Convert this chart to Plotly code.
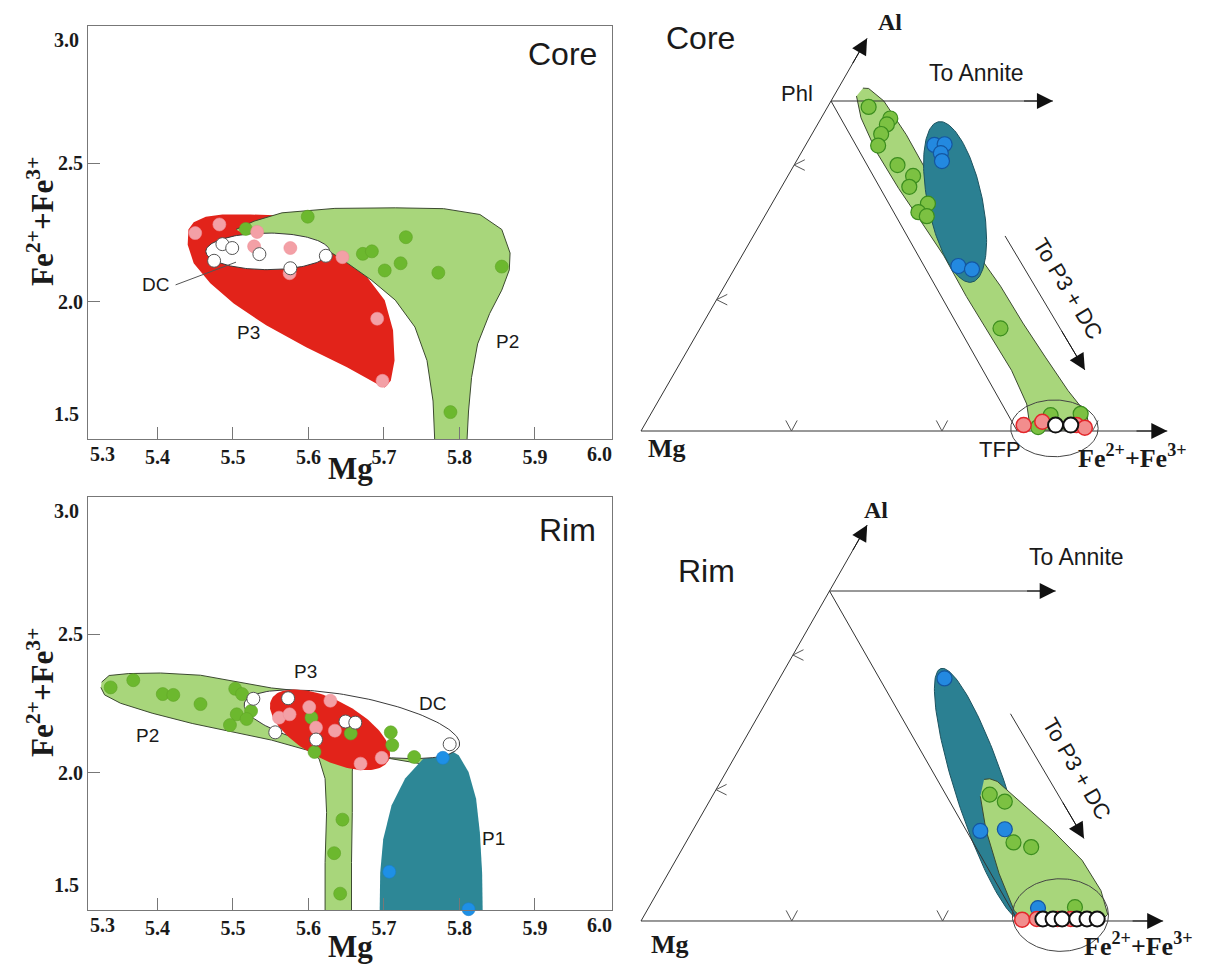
import numpy as np
import plotly.graph_objects as go

W, H = 1209, 966
SANS = "Liberation Sans"
SERIF = "Liberation Serif"
INK = "#1a1a1a"

# ---------------- Mg vs Fe2+ + Fe3+ : core ----------------
core_green_mg = [5.599, 5.517, 5.672, 5.684, 5.729, 5.701, 5.722, 5.772, 5.856, 5.788]
core_green_fe = [2.307, 2.263, 2.173, 2.182, 2.233, 2.113, 2.139, 2.105, 2.127, 1.602]
core_pink_mg = [5.450, 5.482, 5.532, 5.528, 5.576, 5.645, 5.691, 5.698, 5.575]
core_pink_fe = [2.248, 2.279, 2.252, 2.200, 2.194, 2.161, 1.939, 1.715, 2.103]
core_white_mg = [5.486, 5.499, 5.475, 5.535, 5.576, 5.623]
core_white_fe = [2.208, 2.194, 2.148, 2.172, 2.121, 2.166]

# field outlines (Mg, Fe)
core_p3_mg = [5.441, 5.448, 5.464, 5.486, 5.523, 5.555, 5.597, 5.645, 5.677, 5.701, 5.712,
              5.714, 5.709, 5.701, 5.691, 5.651, 5.597, 5.544, 5.501, 5.470, 5.448, 5.440]
core_p3_fe = [2.261, 2.287, 2.307, 2.315, 2.315, 2.312, 2.261, 2.176, 2.091, 2.006, 1.897,
              1.788, 1.715, 1.691, 1.703, 1.764, 1.836, 1.915, 1.994, 2.067, 2.139, 2.206]
core_p2_mg = [5.504, 5.528, 5.565, 5.635, 5.715, 5.779, 5.827, 5.856, 5.867, 5.866, 5.856,
              5.840, 5.824, 5.816, 5.812, 5.810, 5.809, 5.768, 5.767, 5.765, 5.757, 5.741,
              5.715, 5.683, 5.645, 5.624, 5.587, 5.544, 5.512]
core_p2_fe = [2.261, 2.291, 2.321, 2.337, 2.339, 2.336, 2.315, 2.261, 2.176, 2.115, 2.042,
              1.958, 1.848, 1.727, 1.606, 1.499, 1.45, 1.45, 1.499, 1.642, 1.788, 1.909,
              2.006, 2.079, 2.152, 2.188, 2.230, 2.245, 2.248]
# DC field: centre, semi-axis vectors
core_dc = dict(cx=5.546, cy=2.182, ux=0.0820, uy=0.0, vx=0.0, vy=0.066)

# ---------------- Mg vs Fe2+ + Fe3+ : rim ----------------
rim_green_mg = [5.338, 5.368, 5.407, 5.421, 5.457, 5.503, 5.512, 5.524, 5.505, 5.518, 5.496,
                5.604, 5.656, 5.709, 5.711, 5.608, 5.740, 5.645, 5.634, 5.642]
rim_green_fe = [2.308, 2.334, 2.284, 2.281, 2.248, 2.303, 2.284, 2.223, 2.211, 2.194, 2.172,
                2.199, 2.142, 2.146, 2.100, 2.075, 2.057, 1.831, 1.710, 1.564]
rim_pink_mg = [5.561, 5.575, 5.601, 5.629, 5.610, 5.635, 5.669, 5.697]
rim_pink_fe = [2.199, 2.211, 2.237, 2.260, 2.163, 2.152, 2.033, 2.054]
rim_white_mg = [5.527, 5.573, 5.556, 5.610, 5.649, 5.662, 5.787]
rim_white_fe = [2.267, 2.269, 2.146, 2.120, 2.185, 2.181, 2.103]
rim_blue_mg = [5.778, 5.707, 5.812]
rim_blue_fe = [2.054, 1.643, 1.508]

rim_p2_mg = [5.326, 5.336, 5.362, 5.404, 5.457, 5.509, 5.551, 5.593, 5.656, 5.682, 5.730,
             5.753, 5.758, 5.748, 5.709, 5.677, 5.659, 5.658, 5.658, 5.657, 5.657, 5.622,
             5.622, 5.624, 5.622, 5.614, 5.598, 5.551, 5.499, 5.446, 5.393, 5.351, 5.330, 5.325]
rim_p2_fe = [2.327, 2.351, 2.358, 2.360, 2.352, 2.327, 2.306, 2.294, 2.221, 2.148, 2.078,
             2.069, 2.057, 2.033, 2.051, 2.057, 2.051, 2.003, 1.857, 1.676, 1.45, 1.45,
             1.676, 1.857, 1.979, 2.051, 2.082, 2.118, 2.148, 2.178, 2.215, 2.251, 2.281, 2.308]
rim_p1_mg = [5.776, 5.784, 5.799, 5.812, 5.822, 5.827, 5.830, 5.831, 5.831,
             5.694, 5.694, 5.695, 5.699, 5.710, 5.728, 5.752, 5.770]
rim_p1_fe = [2.090, 2.088, 2.063, 2.003, 1.906, 1.785, 1.639, 1.50, 1.45,
             1.45, 1.50, 1.639, 1.760, 1.882, 1.979, 2.051, 2.082]
rim_dc = dict(cx=5.6575, cy=2.175, ux=0.1425, uy=-0.075, vx=0.0070, vy=0.099)
rim_p3 = dict(cx=5.6285, cy=2.155, ux=0.0775, uy=-0.1105, vx=-0.018, vy=-0.095)

# ---------------- Mg - Al - Fe diagrams (diagram units: Mg=(0,0), Phl=(0.5,1)) ----------------
tc_green_x = [0.599, 0.656, 0.647, 0.632, 0.624, 0.675, 0.716, 0.706, 0.755, 0.730, 0.752,
              0.946, 1.078, 1.157, 1.045]
tc_green_y = [0.982, 0.947, 0.929, 0.900, 0.865, 0.806, 0.773, 0.740, 0.689, 0.663, 0.651,
              0.311, 0.048, 0.052, 0.012]
tc_blue_x = [0.772, 0.799, 0.789, 0.792, 0.835, 0.871]
tc_blue_y = [0.867, 0.869, 0.842, 0.818, 0.500, 0.490]
tc_red_x = [1.007, 1.056, 1.146, 1.168]
tc_red_y = [0.018, 0.028, 0.018, 0.010]
tc_white_x = [1.091, 1.131]
tc_white_y = [0.018, 0.018]

tc_band_x = [0.567, 0.579, 0.619, 0.678, 0.738, 0.797, 0.856, 0.916, 0.975, 1.015, 1.023,
             1.060, 1.094, 1.140, 1.178, 1.173, 1.124, 1.064, 1.005, 0.946, 0.896, 0.856,
             0.807, 0.757, 0.698, 0.639, 0.599, 0.584]
tc_band_y = [1.015, 0.949, 0.847, 0.735, 0.633, 0.531, 0.408, 0.296, 0.184, 0.082, 0.018,
             0.003, 0.002, 0.005, 0.018, 0.051, 0.122, 0.224, 0.327, 0.439, 0.520, 0.571,
             0.653, 0.776, 0.898, 1.000, 1.038, 1.039]
tc_blue_field = dict(cx=0.8265, cy=0.694, ux=-0.0445, uy=0.243, vx=0.070, vy=0.018)
tc_tfp = dict(cx=1.088, cy=0.008, ux=0.115, uy=0.0, vx=0.0, vy=0.086)

tr_green_x = [0.925, 0.965, 0.988, 1.035, 1.151]
tr_green_y = [0.383, 0.362, 0.238, 0.224, 0.042]
tr_blue_x = [0.805, 0.900, 0.965, 1.053]
tr_blue_y = [0.735, 0.273, 0.278, 0.039]
tr_red_x = [1.011, 1.050, 1.105, 1.140]
tr_red_y = [0.004, 0.006, 0.006, 0.006]
tr_white_x = [1.066, 1.093, 1.117, 1.156, 1.183, 1.210]
tr_white_y = [0.006, 0.006, 0.006, 0.006, 0.006, 0.006]

tr_band_x = [0.910, 0.925, 0.945, 1.000, 1.090, 1.170, 1.220, 1.238, 1.220, 1.090, 1.020,
             0.990, 0.950, 0.915, 0.900]
tr_band_y = [0.429, 0.431, 0.423, 0.367, 0.276, 0.184, 0.092, 0.020, 0.000, -0.002, 0.000,
             0.031, 0.143, 0.276, 0.378]
tr_blue_field = dict(cx=0.905, cy=0.383, ux=-0.110, uy=0.382, vx=0.063, vy=0.024)
tr_tfp = dict(cx=1.1125, cy=0.018, ux=0.1275, uy=0.0, vx=0.0, vy=0.110)

base_ticks_core = [0.396, 0.792, 1.188]
base_ticks_rim = [0.400, 0.800]
side_ticks = [0.398, 0.806]

# ---------------- colours ----------------
RED = "#e2231a"
LGREEN = "#a8d67b"
TEAL = "#2d8796"
PT_GREEN = "#6cb82e"
PT_PINK = "#f3a0a6"
PT_BLUE = "#1e90e6"


def ellipse(e, n=160):
    t = np.linspace(0, 2 * np.pi, n)
    return (e["cx"] + e["ux"] * np.cos(t) + e["vx"] * np.sin(t),
            e["cy"] + e["uy"] * np.cos(t) + e["vy"] * np.sin(t))


fig = go.Figure()


def field(x, y, color, xa, ya, line_color=None, lw=1.0):
    fig.add_trace(go.Scatter(
        x=list(x), y=list(y), xaxis=xa, yaxis=ya, mode="lines", fill="toself",
        fillcolor=color, line=dict(color=line_color or color, width=lw if line_color else 0),
        hoverinfo="skip", showlegend=False))


def points(x, y, xa, ya, fill, edge, size, ew):
    fig.add_trace(go.Scatter(
        x=x, y=y, xaxis=xa, yaxis=ya, mode="markers", cliponaxis=False,
        marker=dict(size=size, color=fill, line=dict(color=edge, width=ew)),
        hoverinfo="skip", showlegend=False))


def seg(x, y, xa, ya, width=1.0, color="#333333"):
    fig.add_trace(go.Scatter(x=x, y=y, xaxis=xa, yaxis=ya, mode="lines",
                             line=dict(color=color, width=width),
                             hoverinfo="skip", showlegend=False))


# ---- core (Mg vs Fe) ----
field(core_p3_mg, core_p3_fe, RED, "x", "y")
field(core_p2_mg, core_p2_fe, LGREEN, "x", "y", line_color="#3c4a30", lw=1)
ex, ey = ellipse(core_dc)
field(ex, ey, "white", "x", "y", line_color="#3a3a3a", lw=1)
seg([5.424, 5.504], [2.061, 2.143], "x", "y", width=1, color="#555555")
points(core_green_mg, core_green_fe, "x", "y", PT_GREEN, "#5fa427", 13, 0.6)
points(core_pink_mg, core_pink_fe, "x", "y", PT_PINK, "#f08f97", 13, 0.6)
points(core_white_mg, core_white_fe, "x", "y", "white", "#555555", 13, 1.0)

# ---- rim (Mg vs Fe) ----
field(rim_p2_mg, rim_p2_fe, LGREEN, "x2", "y2", line_color="#3c4a30", lw=1)
field(rim_p1_mg, rim_p1_fe, TEAL, "x2", "y2")
ex, ey = ellipse(rim_dc)
field(ex, ey, "white", "x2", "y2", line_color="#3a3a3a", lw=1)
ex, ey = ellipse(rim_p3)
field(ex, ey, RED, "x2", "y2")
points(rim_green_mg, rim_green_fe, "x2", "y2", PT_GREEN, "#5fa427", 13, 0.6)
points(rim_pink_mg, rim_pink_fe, "x2", "y2", PT_PINK, "#f08f97", 13, 0.6)
points(rim_white_mg, rim_white_fe, "x2", "y2", "white", "#555555", 13, 1.0)
points(rim_blue_mg, rim_blue_fe, "x2", "y2", PT_BLUE, "#1a7fcc", 13, 0.6)


def tern_frame(xa, ya, right_end, ticks, al_tip, annite_end, p3_line):
    seg([0, 1.385], [0, 0], xa, ya)
    seg([0, al_tip[0]], [0, al_tip[1]], xa, ya)
    seg([0.5, right_end], [1, 0], xa, ya)
    seg([0.5, annite_end], [1, 1], xa, ya)
    seg([p3_line[0], p3_line[2]], [p3_line[1], p3_line[3]], xa, ya)
    tx, ty = [], []
    for t in ticks:
        tx += [t - 0.015, t, t + 0.015, None]
        ty += [0.032, 0, 0.032, None]
    for s in side_ticks:
        tx += [s / 2 + 0.028, s / 2, s / 2 + 0.028, None]
        ty += [s + 0.016, s, s - 0.016, None]
    seg(tx, ty, xa, ya, width=1, color="#555555")


# ---- core (Mg-Al-Fe) ----
field(tc_band_x, tc_band_y, LGREEN, "x3", "y3", line_color="#3c4a30", lw=1)
ex, ey = ellipse(tc_blue_field)
field(ex, ey, "#2b8092", "x3", "y3", line_color="#1d5360", lw=1)
TC_AL, TC_ANN, TC_P3 = (0.595, 1.19), 1.084, (0.958, 0.591, 1.168, 0.185)
tern_frame("x3", "y3", 0.99, base_ticks_core, TC_AL, TC_ANN, TC_P3)
ex, ey = ellipse(tc_tfp)
seg(ex, ey, "x3", "y3", width=1, color="#444444")
points(tc_green_x, tc_green_y, "x3", "y3", "#7cc142", "#3b8d1e", 15, 1.2)
points(tc_blue_x, tc_blue_y, "x3", "y3", "#2389e0", "#1456a0", 15, 1.2)
points(tc_red_x, tc_red_y, "x3", "y3", "#f28d8d", "#e3262a", 15, 1.5)
points(tc_white_x, tc_white_y, "x3", "y3", "white", "#111111", 15, 2.0)

# ---- rim (Mg-Al-Fe) ----
ex, ey = ellipse(tr_blue_field)
field(ex, ey, "#2b8092", "x4", "y4", line_color="#1d5360", lw=1)
field(tr_band_x, tr_band_y, LGREEN, "x4", "y4", line_color="#3c4a30", lw=1)
TR_AL, TR_ANN, TR_P3 = (0.6, 1.2), 1.10, (0.98, 0.628, 1.175, 0.25)
tern_frame("x4", "y4", 1.0, base_ticks_rim, TR_AL, TR_ANN, TR_P3)
ex, ey = ellipse(tr_tfp)
seg(ex, ey, "x4", "y4", width=1, color="#444444")
points(tr_green_x, tr_green_y, "x4", "y4", "#7cc142", "#3b8d1e", 15, 1.2)
points(tr_blue_x, tr_blue_y, "x4", "y4", "#2389e0", "#1456a0", 15, 1.2)
points(tr_red_x, tr_red_y, "x4", "y4", "#f28d8d", "#e3262a", 15, 1.5)
points(tr_white_x, tr_white_y, "x4", "y4", "white", "#111111", 15, 2.0)


# ---------------- axes ----------------
def px(x):
    return x / W


def py(y):
    return 1 - y / H


TICKFONT = dict(family=SERIF, size=20, color=INK, weight="bold")
mg_axis = dict(range=[5.308, 6.002], tickvals=[5.4, 5.5, 5.6, 5.7, 5.8, 5.9],
               ticktext=["5.4", "5.5", "5.6", "5.7", "5.8", "5.9"], ticks="inside",
               ticklen=12, tickcolor="#777777", showline=True, linecolor="#777777",
               linewidth=1, mirror=True, showgrid=False, zeroline=False, tickfont=TICKFONT)
fe_axis = dict(range=[1.505, 2.995], tickvals=[2.0, 2.5], ticktext=["2.0", "2.5"],
               ticks="inside", ticklen=12, tickcolor="#777777", showline=True,
               linecolor="#777777", linewidth=1, mirror=True, showgrid=False,
               zeroline=False, tickfont=TICKFONT)

hidden = dict(visible=False, showgrid=False, zeroline=False)

fig.update_layout(
    width=W, height=H, autosize=False,
    margin=dict(l=0, r=0, t=0, b=0),
    paper_bgcolor="white", plot_bgcolor="rgba(0,0,0,0)",
    xaxis=dict(domain=[px(88), px(612)], anchor="y", **mg_axis),
    yaxis=dict(domain=[py(439), py(26)], anchor="x", **fe_axis),
    xaxis2=dict(domain=[px(88), px(612)], anchor="y2", **mg_axis),
    yaxis2=dict(domain=[py(910), py(497)], anchor="x2", **fe_axis),
    xaxis3=dict(domain=[px(620), 1], anchor="y3", range=[-0.0553, 1.4947], **hidden),
    yaxis3=dict(domain=[py(480), 1], anchor="x3", range=[-0.1485, 1.3061], **hidden),
    xaxis4=dict(domain=[px(620), 1], anchor="y4", range=[-0.0557, 1.5066], **hidden),
    yaxis4=dict(domain=[0, py(480)], anchor="x4", range=[-0.1364, 1.3364], **hidden),
)

ann = []


def text(t, x, y, size, family=SANS, bold=False, angle=0, xanchor="center", xref="paper", yref="paper"):
    if xref == "paper":
        x, y = px(x), py(y)
    ann.append(dict(text=t, x=x, y=y, xref=xref, yref=yref, showarrow=False,
                    xanchor=xanchor, yanchor="middle", textangle=angle,
                    font=dict(family=family, size=size, color=INK,
                              weight="bold" if bold else "normal")))


def head(xa, ya, tail, tip):
    # filled arrowhead sitting on the end of a diagram line
    ann.append(dict(x=tip[0], y=tip[1], ax=tail[0], ay=tail[1], xref=xa, yref=ya,
                    axref=xa, ayref=ya, showarrow=True, arrowhead=2, arrowsize=3.2,
                    arrowwidth=1, arrowcolor="#111111", text=""))


FE = "Fe<sup>2+</sup>+Fe<sup>3+</sup>"

# left panels: end tick labels, axis titles, field labels
for dy in (0, 471):
    text("5.3", 102, 454 + dy, 20, SERIF, True)
    text("6.0", 599, 454 + dy, 20, SERIF, True)
    text("3.0", 81, 40 + dy, 20, SERIF, True, xanchor="right")
    text("1.5", 81, 414 + dy, 20, SERIF, True, xanchor="right")
    text(FE, 40, 222 + dy, 31, SERIF, True, angle=-90)
text("Mg", 350, 468, 31, SERIF, True)
text("Mg", 350, 946, 31, SERIF, True)
text("Core", 562, 54, 32)
text("Rim", 567, 530, 32)

text("DC", 5.398, 2.061, 19, xref="x", yref="y")
text("P3", 5.520, 1.891, 19, xref="x", yref="y")
text("P2", 5.864, 1.855, 19, xref="x", yref="y")
text("P3", 5.596, 2.366, 19, xref="x2", yref="y2")
text("DC", 5.764, 2.251, 19, xref="x2", yref="y2")
text("P2", 5.387, 2.136, 19, xref="x2", yref="y2")
text("P1", 5.845, 1.763, 19, xref="x2", yref="y2")

# right panels
text("Core", 700, 38, 32)
text("Al", 890, 22, 24, SERIF, True)
text("Phl", 797, 93, 22)
text("To Annite", 976, 73, 23)
text("To P3 + DC", 1068, 288, 22, angle=59)
text("TFP", 1000, 449, 22)
text("Mg", 667, 448, 26, SERIF, True)
text(FE, 1132, 456, 26, SERIF, True)

text("Rim", 706, 571, 32)
text("Al", 876, 510, 24, SERIF, True)
text("To Annite", 1076, 557, 23)
text("To P3 + DC", 1077, 768, 22, angle=60)
text("Mg", 670, 944, 26, SERIF, True)
text(FE, 1138, 944, 26, SERIF, True)

for xa, ya, al_tip, ann_end, p3 in (("x3", "y3", TC_AL, TC_ANN, TC_P3),
                                     ("x4", "y4", TR_AL, TR_ANN, TR_P3)):
    head(xa, ya, (1.30, 0), (1.385, 0))
    head(xa, ya, (al_tip[0] - 0.04, al_tip[1] - 0.08), al_tip)
    head(xa, ya, (ann_end - 0.08, 1), (ann_end, 1))
    dx, dy_ = p3[2] - p3[0], p3[3] - p3[1]
    head(xa, ya, (p3[2] - 0.3 * dx, p3[3] - 0.3 * dy_), (p3[2], p3[3]))

fig.update_layout(annotations=ann)

fig.write_html("out.html")
